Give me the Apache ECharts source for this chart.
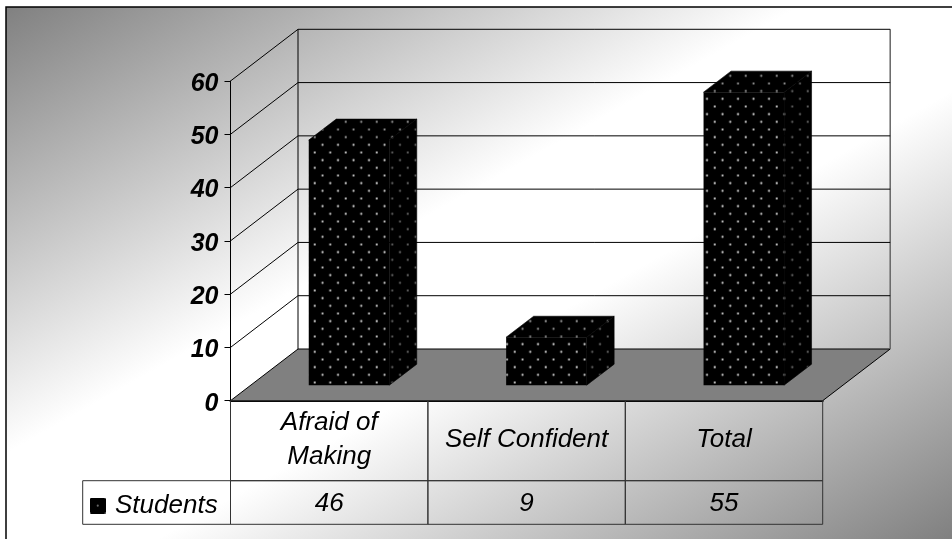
<!DOCTYPE html>
<html>
<head>
<meta charset="utf-8">
<style>html,body{margin:0;padding:0;background:#fff}#c{width:952px;height:539px}</style>
<script src="https://cdn.jsdelivr.net/npm/echarts@6/dist/echarts.min.js"></script>
</head>
<body>
<div id="c"></div>
<script>
// Data
var categories = ['Afraid of\nMaking', 'Self Confident', 'Total'];
var seriesName = 'Students';
var studentValues = [46, 9, 55];
var valueTicks = [0, 10, 20, 30, 40, 50, 60];

// Plot geometry (style constants)
var FRONT = {left: 230.5, right: 822.7, top: 81, bottom: 400.7};
var DEPTH = {x: 67.5, y: 51.7};
var BAR = {width: 80.5, dx: 27.5, dy: 21, offX: 19.8, offY: 15.5};
var TABLE = {left: 82.7, mid: 480.7, bottom: 524.3};
var FONT = '"Liberation Sans", Arial, sans-serif';

function makeTile(color) {
  var w = 31, h = 46, c = document.createElement('canvas');
  c.width = w; c.height = h;
  var g = c.getContext('2d');
  g.fillStyle = '#000'; g.fillRect(0, 0, w, h);
  g.fillStyle = color;
  for (var k = 0; k < 6; k++) {
    for (var j = 0; j < 2; j++) {
      var x = (k % 2 ? 7.75 : 0) + j * 15.5, y = k * 46 / 6;
      [-w, 0, w].forEach(function (ox) {
        [-h, 0, h].forEach(function (oy) {
          g.beginPath(); g.arc(x + ox, y + oy, 1.05, 0, Math.PI * 2); g.fill();
        });
      });
    }
  }
  return c;
}
var tileFront = makeTile('#e4e4e4'), tileTop = makeTile('#a8a8a8'), tileSide = makeTile('#707070');
function dots(tile, x, y) { return {image: tile, repeat: 'repeat', x: x, y: y}; }

var chart = echarts.init(document.getElementById('c'), null, {renderer: 'canvas', width: 952, height: 539});

function renderWall(params, api) {
  var v = api.value(0), p = api.coord([0, v]), band = api.size([1, 0])[0];
  var x0 = p[0] - band / 2, y = p[1], x1 = x0 + band * categories.length;
  var line = {stroke: '#000', lineWidth: 1};
  var children = [];
  if (v === valueTicks[0]) {
    children.push({type: 'polygon', shape: {points: [[x0, y], [x1, y], [x1 + DEPTH.x, y - DEPTH.y], [x0 + DEPTH.x, y - DEPTH.y]]},
      style: {fill: '#808080', stroke: '#000', lineWidth: 1}});
    var top = api.coord([0, valueTicks[valueTicks.length - 1]])[1];
    children.push({type: 'line', shape: {x1: x0 + DEPTH.x, y1: y - DEPTH.y, x2: x0 + DEPTH.x, y2: top - DEPTH.y}, style: line});
    children.push({type: 'line', shape: {x1: x1 + DEPTH.x, y1: y - DEPTH.y, x2: x1 + DEPTH.x, y2: top - DEPTH.y}, style: {stroke: '#666', lineWidth: 1.5}});
  } else {
    children.push({type: 'line', shape: {x1: x0, y1: y, x2: x0 + DEPTH.x, y2: y - DEPTH.y}, style: line});
    children.push({type: 'line', shape: {x1: x0 + DEPTH.x, y1: y - DEPTH.y, x2: x1 + DEPTH.x, y2: y - DEPTH.y}, style: line});
  }
  return {type: 'group', children: children};
}

function renderBar(params, api) {
  var i = api.value(0), v = api.value(1);
  var base = api.coord([i, 0]), head = api.coord([i, v]);
  var l = base[0] + BAR.offX - BAR.width / 2, r = l + BAR.width;
  var b = base[1] - BAR.offY, t = head[1] - BAR.offY;
  var px = l + 6 + i * 2.6, py = b - 2.7;
  return {type: 'group', z2: 10, children: [
    {type: 'polygon', shape: {points: [[l, t], [r, t], [r + BAR.dx, t - BAR.dy], [l + BAR.dx, t - BAR.dy]]},
      style: {fill: dots(tileTop, px, py), stroke: '#000', lineWidth: 0.6}},
    {type: 'polygon', shape: {points: [[r, t], [r + BAR.dx, t - BAR.dy], [r + BAR.dx, b - BAR.dy], [r, b]]},
      style: {fill: dots(tileSide, px, py), stroke: '#000', lineWidth: 0.6}},
    {type: 'rect', shape: {x: l, y: t, width: BAR.width, height: b - t},
      style: {fill: dots(tileFront, px, py)}}
  ]};
}

function renderCell(params, api) {
  var i = api.value(0), p = api.coord([i, 0]), band = api.size([1, 0])[0];
  var x = p[0] - band / 2, y = p[1];
  var ln = {fill: 'none', stroke: '#333', lineWidth: 1};
  return {type: 'group', children: [
    {type: 'rect', shape: {x: x, y: y, width: band, height: TABLE.mid - y}, style: ln},
    {type: 'rect', shape: {x: x, y: TABLE.mid, width: band, height: TABLE.bottom - TABLE.mid}, style: ln},
    {type: 'text', x: p[0], y: (TABLE.mid + TABLE.bottom) / 2 + 1.5, style: {
      text: String(api.value(1)), fill: '#000', font: 'italic 26px ' + FONT, align: 'center', verticalAlign: 'middle'}}
  ]};
}

var tableData = studentValues.map(function (v, i) { return [i, v]; });

chart.setOption({
  animation: false,
  backgroundColor: '#fff',
  graphic: [
    {type: 'rect', z: -10, shape: {x: 6, y: 7, width: 960, height: 560},
      style: {fill: new echarts.graphic.LinearGradient(6, 6, 462, 815, [
        {offset: 0, color: '#808080'}, {offset: 0.42, color: '#ffffff'}, {offset: 0.58, color: '#ffffff'}, {offset: 1, color: '#808080'}], true),
        stroke: '#000', lineWidth: 1.5}},
    {type: 'rect', z: 1, shape: {x: TABLE.left, y: TABLE.mid, width: FRONT.left - TABLE.left, height: TABLE.bottom - TABLE.mid},
      style: {fill: 'none', stroke: '#333', lineWidth: 1}}
  ],
  legend: {
    left: 90, top: 493, padding: 0, itemWidth: 16, itemHeight: 16, icon: 'rect',
    data: [{name: seriesName, icon: 'rect', itemStyle: {color: {image: makeTile('#666'), repeat: 'repeat'}}}],
    textStyle: {fontFamily: FONT, fontStyle: 'italic', fontSize: 26, color: '#000', padding: [0, 0, 0, 4]},
    selectedMode: false
  },
  grid: {left: FRONT.left, top: FRONT.top, width: FRONT.right - FRONT.left, height: FRONT.bottom - FRONT.top},
  xAxis: {
    type: 'category', data: categories,
    axisLine: {show: true, lineStyle: {color: '#000', width: 2}},
    axisTick: {show: false},
    axisLabel: {interval: 0, margin: 39, lineHeight: 34, verticalAlign: 'middle', color: '#000',
      fontFamily: FONT, fontStyle: 'italic', fontSize: 26}
  },
  yAxis: {
    type: 'value', min: 0, max: 60, interval: 10,
    axisLine: {show: true, onZero: false, lineStyle: {color: '#000', width: 1}},
    axisTick: {show: true, length: 6, lineStyle: {color: '#000'}},
    splitLine: {show: false},
    axisLabel: {
      margin: 12, color: '#000',
      formatter: function (v) { return '{t|' + v + '}'; },
      rich: {t: {padding: [6, 0, 0, 0], color: '#000', fontFamily: FONT, fontStyle: 'italic', fontWeight: 'bold', fontSize: 25}}
    }
  },
  series: [
    {type: 'custom', name: 'walls', silent: true, z: 1, renderItem: renderWall, encode: {y: 0},
      data: valueTicks.map(function (v) { return [v]; })},
    {type: 'custom', name: 'table', silent: true, z: 1, renderItem: renderCell, encode: {x: 0, y: 1}, data: tableData},
    {type: 'custom', name: seriesName, z: 3, renderItem: renderBar, encode: {x: 0, y: 1},
      itemStyle: {color: '#000'}, data: tableData}
  ]
});
</script>
</body>
</html>
